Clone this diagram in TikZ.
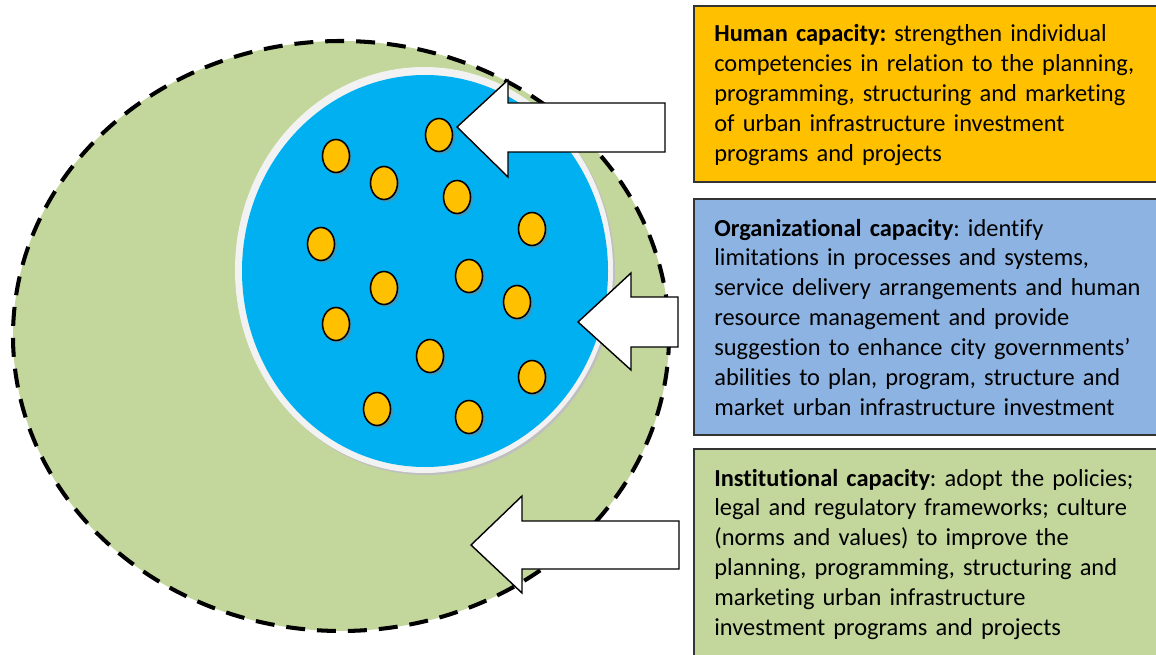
\documentclass[tikz,border=0pt]{standalone}
\usepackage{fontspec}
\setmainfont{Carlito}[Ligatures={TeX,NoCommon}]
\usetikzlibrary{shapes,shadows}

\definecolor{LeafGreen}{HTML}{C3D69B}
\definecolor{SkyBlue}{HTML}{00B0F0}
\definecolor{Amber}{HTML}{FFC000}
\definecolor{SoftBlue}{HTML}{8DB3E2}
\definecolor{RingGrey}{HTML}{F2F2F2}
\frenchspacing

\begin{document}
\begin{tikzpicture}[x=0.02cm, y=-0.02cm]
\tikzset{DotStyle/.style = {ellipse, draw, line width=0.9pt, fill=Amber, minimum width=0.54cm, minimum height=0.66cm, inner sep=0pt, drop shadow={shadow xshift=0.05cm, shadow yshift=-0.05cm, opacity=0.45}}}
\tikzset{ArrowStyle/.style = {draw=black, line width=0.8pt, fill=white, line join=miter}}
\tikzset{BoxStyle/.style = {draw=black!80, line width=1pt}}
\tikzset{TextStyle/.style = {anchor=base west, inner sep=0pt, text width=9cm, align=left, font=\fontsize{13.9}{17.07}\selectfont}}
\useasboundingbox (0,0) rectangle (1156,655);

% outer ring
\fill[LeafGreen] (341,336) ellipse [x radius=328, y radius=295];
\draw[line width=2.3pt, dash pattern=on 10.8pt off 6.8pt] (341,336) ellipse [x radius=328, y radius=295];

% inner circle
\fill[black!25] (426,272) ellipse [x radius=189, y radius=203];
\fill[RingGrey] (424,270) ellipse [x radius=189, y radius=203];
\fill[SkyBlue] (425,271) ellipse [x radius=183, y radius=196];

% people
\node[DotStyle] (D1) at (439,135) {};
\node[DotStyle] (D2) at (336,156) {};
\node[DotStyle] (D3) at (384,183) {};
\node[DotStyle] (D4) at (457,197) {};
\node[DotStyle] (D5) at (532,229) {};
\node[DotStyle] (D6) at (321,244) {};
\node[DotStyle] (D7) at (469,276) {};
\node[DotStyle] (D8) at (384,288) {};
\node[DotStyle] (D9) at (517,302) {};
\node[DotStyle] (D10) at (336,324) {};
\node[DotStyle] (D11) at (430,356) {};
\node[DotStyle] (D12) at (532,377) {};
\node[DotStyle] (D13) at (377,409) {};
\node[DotStyle] (D14) at (469,417) {};

% arrows
\coordinate (HTip) at (457,127);
\coordinate (OTip) at (578,322);
\coordinate (ITip) at (471,545);
\draw[ArrowStyle] (HTip) -- ++(51,-47) -- ++(0,23) -- ++(157,0) -- ++(0,49) -- ++(-157,0) -- ++(0,25) -- cycle;
\draw[ArrowStyle] (OTip) -- ++(53,-49) -- ++(0,24) -- ++(47,0) -- ++(0,50) -- ++(-47,0) -- ++(0,23) -- cycle;
\draw[ArrowStyle] (ITip) -- ++(51,-49) -- ++(0,25) -- ++(157,0) -- ++(0,48) -- ++(-157,0) -- ++(0,24) -- cycle;

% boxes
\draw[BoxStyle, fill=Amber] (694,6) rectangle (1160,182);
\draw[BoxStyle, fill=SoftBlue] (694,199) rectangle (1160,435);
\draw[BoxStyle, fill=LeafGreen] (694,449) rectangle (1160,662);

\node[TextStyle] (Human) at (714,42) {\textbf{Human capacity:} strengthen individual\\
competencies in relation to the planning,\\
programming, structuring and marketing\\
of urban infrastructure investment\\
programs and projects};
\node[TextStyle] (Org) at (714,236) {\textbf{Organizational capacity}: identify\\
limitations in processes and systems,\\
service delivery arrangements and human\\
resource management and provide\\
suggestion to enhance city governments’\\
abilities to plan, program, structure and\\
market urban infrastructure investment};
\node[TextStyle] (Inst) at (714,486) {\textbf{Institutional capacity}: adopt the policies;\\
legal and regulatory frameworks; culture\\
(norms and values) to improve the\\
planning, programming, structuring and\\
marketing urban infrastructure\\
investment programs and projects};
\end{tikzpicture}
\end{document}
